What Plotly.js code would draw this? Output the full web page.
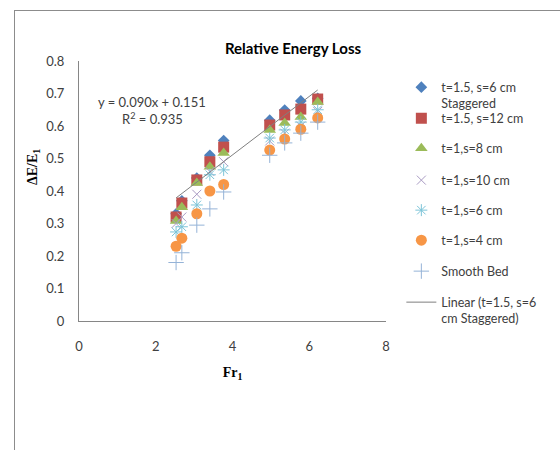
<!DOCTYPE html>
<html>
<head>
<meta charset="utf-8">
<script src="https://cdn.plot.ly/plotly-3.0.1.min.js"></script>
<style>
  html, body { margin: 0; padding: 0; background: #ffffff; }
  #frame { position: absolute; left: 14px; top: 10px; width: 560px; height: 460px;
           border-left: 1px solid #8c8c8c; border-top: 1px solid #8c8c8c; }
  #chart { position: absolute; left: 0; top: 0; width: 560px; height: 450px; }
</style>
</head>
<body>
<div id="frame"></div>
<div id="chart"></div>
<script>
// Froude number (x) for each measurement group
const fr = [2.53, 2.68, 3.07, 3.41, 3.77, 4.97, 5.36, 5.78, 6.22];

// Relative energy loss ΔE/E1 for each configuration
const stag_t15_s6  = [0.330, 0.370, 0.440, 0.510, 0.555, 0.618, 0.649, 0.677, 0.685];
const t15_s12      = [0.320, 0.363, 0.434, 0.490, 0.535, 0.603, 0.634, 0.652, 0.683];
const t1_s8        = [0.308, 0.350, 0.425, 0.475, 0.517, 0.588, 0.609, 0.628, 0.674];
const t1_s10       = [0.300, 0.320, 0.390, 0.460, 0.490, 0.554, 0.578, 0.600, 0.645];
const t1_s6        = [0.274, 0.290, 0.357, 0.450, 0.465, 0.563, 0.588, 0.612, 0.650];
const t1_s4        = [0.230, 0.255, 0.330, 0.400, 0.420, 0.526, 0.560, 0.590, 0.625];
const smoothBed    = [0.180, 0.210, 0.295, 0.345, 0.397, 0.510, 0.548, 0.578, 0.612];

// Linear trendline of the staggered series
const trendSlope = 0.090;
const trendIntercept = 0.151;
const trendR2 = 0.935;

const seriesNames = [
  't=1.5, s=6 cm<br>Staggered',
  't=1.5, s=12 cm',
  't=1,s=8 cm',
  't=1,s=10 cm',
  't=1,s=6 cm',
  't=1,s=4 cm',
  'Smooth Bed',
  'Linear (t=1.5, s=6<br>cm Staggered)'
];

const tx = [Math.min(...fr), Math.max(...fr)];
const ty = tx.map(v => trendSlope * v + trendIntercept);

const legendIds = ['legend', 'legend2', 'legend3', 'legend4', 'legend5', 'legend6', 'legend7', 'legend8'];

function pts(y, i, marker) {
  return { x: fr, y: y, name: seriesNames[i], type: 'scatter', mode: 'markers',
           marker: marker, legend: legendIds[i], cliponaxis: false };
}

const traces = [
  pts(stag_t15_s6, 0, {symbol: 'diamond', size: 9, color: '#4F81BD'}),
  pts(t15_s12, 1, {symbol: 'square', size: 11, color: '#C0504D'}),
  pts(t1_s8, 2, {symbol: 'triangle-up', size: 11, color: '#9BBB59'}),
  pts(t1_s10, 3, {symbol: 'x-thin', size: 9, color: '#8064A2', line: {color: '#A99BC3', width: 1}}),
  pts(t1_s6, 4, {symbol: 'asterisk', size: 10, color: '#4BACC6', line: {color: '#7CC4D8', width: 1}}),
  pts(t1_s4, 5, {symbol: 'circle', size: 11, color: '#F79646'}),
  pts(smoothBed, 6, {symbol: 'cross-thin', size: 11, color: '#95B3D7', line: {color: '#95B3D7', width: 1}}),
  { x: tx, y: ty, name: seriesNames[7], type: 'scatter', mode: 'lines',
    line: {color: '#7F7F7F', width: 1}, legend: legendIds[7] }
];

const baseFont = 'Lato, "Liberation Sans", sans-serif';
const tickFont = {family: baseFont, size: 13, color: '#404040'};
const serifFont = {family: '"Liberation Serif", "DejaVu Serif", serif', size: 14, color: '#000000'};

const layout = {
  width: 560, height: 450,
  paper_bgcolor: 'rgba(0,0,0,0)', plot_bgcolor: 'rgba(0,0,0,0)',
  margin: {l: 79, r: 174, t: 61, b: 129},
  showlegend: true,
  title: {text: '<b>Relative Energy Loss</b>', x: 293 / 560, xref: 'container', xanchor: 'center',
          y: 1 - 49 / 450, yref: 'container', yanchor: 'middle',
          font: {family: baseFont, size: 15, color: '#000000'}},
  xaxis: {range: [0, 8], dtick: 2, tick0: 0, showgrid: false, zeroline: false,
          showline: true, linecolor: '#868686', linewidth: 1, ticks: '',
          tickfont: tickFont, ticklabelstandoff: 13,
          title: {text: '<b>Fr<sub>1</sub></b>', standoff: 14, font: serifFont}},
  yaxis: {range: [0, 0.8], dtick: 0.1, tick0: 0, showgrid: false, zeroline: false,
          showline: true, linecolor: '#868686', linewidth: 1, ticks: '',
          tickfont: tickFont, ticklabelstandoff: 11},
  annotations: [
    {xref: 'paper', yref: 'paper', x: (151.5 - 79) / 307, y: (321 - 102) / 260,
     text: 'y = 0.090x + 0.151', showarrow: false, xanchor: 'center', yanchor: 'middle',
     font: {family: baseFont, size: 13, color: '#404040'}},
    {xref: 'paper', yref: 'paper', x: (152 - 79) / 307, y: (321 - 118) / 260,
     text: 'R<sup>2</sup> = ' + trendR2.toFixed(3), showarrow: false, xanchor: 'center', yanchor: 'middle',
     font: {family: baseFont, size: 13, color: '#404040'}},
    {xref: 'paper', yref: 'paper', x: (33 - 79) / 307, y: (321 - 167) / 260,
     text: '<b>ΔE/E<sub>1</sub></b>', showarrow: false, textangle: -90,
     xanchor: 'center', yanchor: 'middle', font: serifFont}
  ]
};

// one legend box per entry, placed at the reference entry rows
const legendRows = [88, 119, 149, 181, 211, 241, 272, 303];
legendIds.forEach((id, i) => {
  layout[id] = {x: 1.05, xanchor: 'left', y: (321 - (legendRows[i] - 15.5)) / 260, yanchor: 'top',
                valign: 'top', bgcolor: 'rgba(0,0,0,0)', borderwidth: 0,
                font: {family: baseFont, size: 12.5, color: '#404040'}};
});

Plotly.newPlot('chart', traces, layout, {displayModeBar: false, staticPlot: true});
</script>
</body>
</html>
